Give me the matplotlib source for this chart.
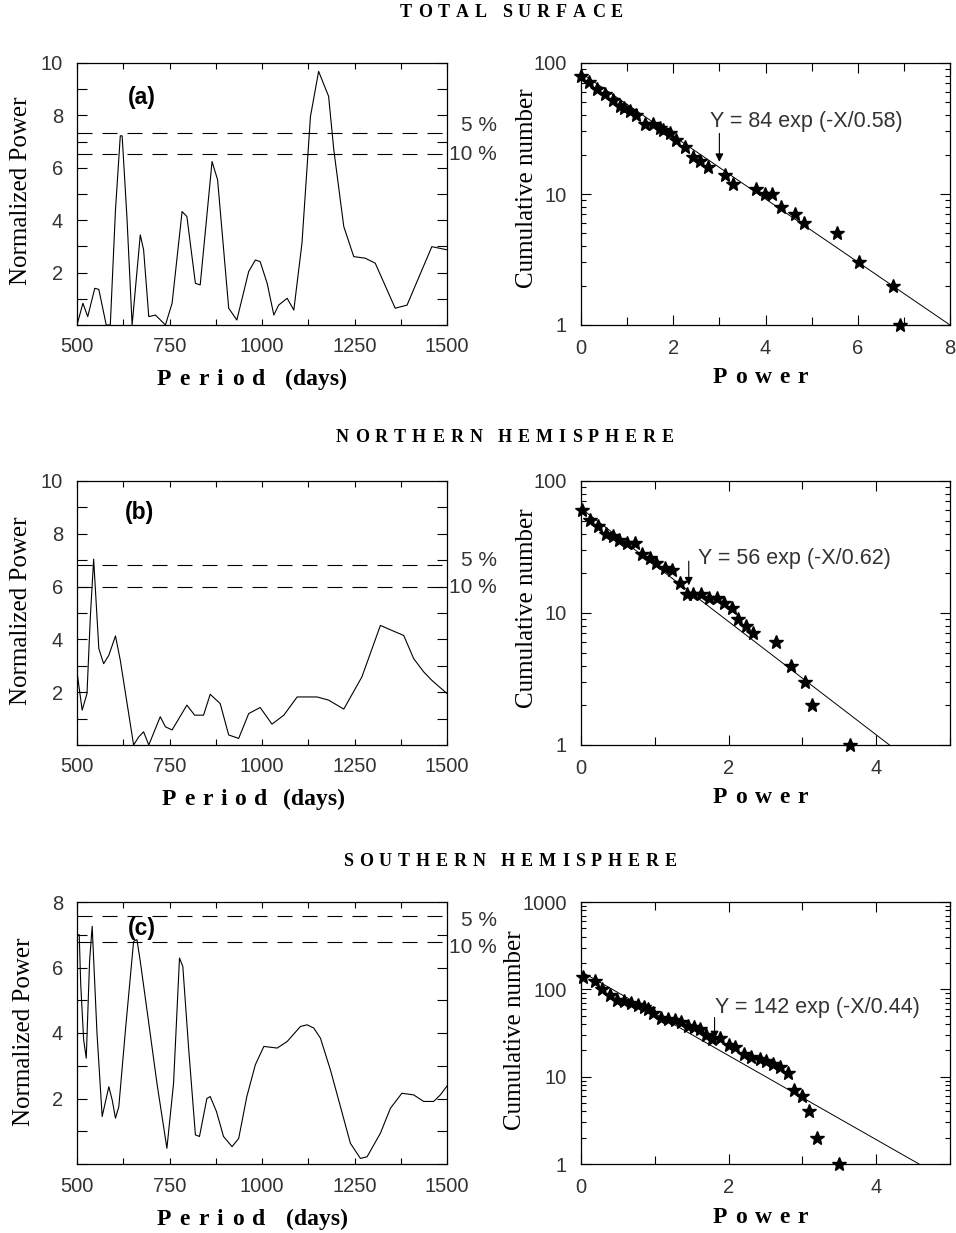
import matplotlib
matplotlib.use('Agg')
import matplotlib.pyplot as plt
from matplotlib.ticker import MultipleLocator, LogLocator, FuncFormatter, NullFormatter
from matplotlib.font_manager import FontProperties

# ---------------- data ----------------
# Left column: normalized periodogram power vs period (days)
a_period = [500, 516, 529, 548, 559, 579, 590, 604, 617, 622, 635, 649, 671, 680, 694, 712,
            739, 757, 784, 797, 820, 833, 865, 880, 910, 932, 964, 982, 995, 1014, 1032, 1045,
            1068, 1086, 1108, 1131, 1153, 1180, 1194, 1221, 1248, 1279, 1306, 1360, 1392, 1459, 1500]
a_power = [0, 0.83, 0.32, 1.40, 1.36, 0, 0, 4.40, 7.22, 7.22, 4.10, 0, 3.44, 2.87, 0.32, 0.38,
           0, 0.83, 4.33, 4.14, 1.59, 1.53, 6.24, 5.54, 0.64, 0.19, 2.04, 2.48, 2.42, 1.59, 0.38, 0.76,
           1.02, 0.57, 3.12, 7.96, 9.68, 8.73, 6.69, 3.76, 2.61, 2.55, 2.36, 0.64, 0.76, 2.99, 2.87]

b_period = [500, 514, 527, 536, 545, 559, 572, 586, 604, 617, 653, 667, 680, 694, 725, 739,
            757, 797, 818, 842, 860, 887, 910, 937, 964, 995, 1027, 1059, 1095, 1149, 1180, 1221,
            1270, 1320, 1351, 1383, 1410, 1437, 1459, 1500]
b_power = [2.77, 1.32, 1.95, 4.84, 7.04, 3.65, 3.08, 3.40, 4.13, 3.21, 0, 0.31, 0.50, 0, 1.07, 0.69,
           0.57, 1.51, 1.13, 1.13, 1.92, 1.57, 0.38, 0.25, 1.19, 1.42, 0.79, 1.13, 1.82, 1.82, 1.70, 1.36,
           2.58, 4.53, 4.34, 4.15, 3.27, 2.77, 2.45, 1.95]

c_period = [500, 501, 506, 510, 518, 525, 534, 541, 554, 568, 586, 595, 604, 613, 631, 653,
            662, 671, 694, 716, 743, 761, 777, 786, 802, 820, 831, 851, 860, 877, 896, 919,
            937, 959, 982, 1005, 1041, 1068, 1104, 1122, 1140, 1158, 1185, 1212, 1239, 1266, 1284,
            1320, 1347, 1378, 1410, 1437, 1464, 1482, 1500]
c_power = [4.90, 7.00, 7.00, 5.50, 3.79, 3.23, 6.19, 7.26, 4.00, 1.45, 2.36, 1.96, 1.40, 1.75, 4.10, 6.80,
           6.85, 6.19, 4.30, 2.47, 0.48, 2.47, 6.29, 6.03, 3.49, 0.89, 0.84, 2.00, 2.06, 1.60, 0.84, 0.53,
           0.78, 2.06, 3.03, 3.59, 3.54, 3.74, 4.20, 4.25, 4.15, 3.84, 2.87, 1.75, 0.63, 0.17, 0.22,
           0.94, 1.70, 2.16, 2.11, 1.91, 1.91, 2.11, 2.38]

# significance levels (5 %, 10 %)
a_sig = [7.34, 6.51]
b_sig = [6.80, 5.97]
c_sig = [7.58, 6.77]
sig_labels = ['5 %', '10 %']

# Right column: cumulative number vs power
ra_x = [0.00, 0.18, 0.35, 0.52, 0.70, 0.84, 0.93, 1.06, 1.19, 1.38, 1.56, 1.71, 1.78, 1.92, 2.06, 2.26,
        2.42, 2.59, 2.76, 3.13, 3.29, 3.79, 3.98, 4.15, 4.33, 4.65, 4.83, 5.54, 6.02, 6.76, 6.92]
ra_y = [80, 71, 63, 58, 52, 47, 45, 43, 40, 34, 34, 32, 31, 29, 26, 23,
        19, 18, 16, 14, 12, 11, 10, 10, 8, 7, 6, 5, 3, 2, 1]
rb_x = [0.01, 0.12, 0.23, 0.34, 0.43, 0.52, 0.63, 0.73, 0.83, 0.93, 1.02, 1.14, 1.23, 1.34, 1.43, 1.52,
        1.63, 1.74, 1.84, 1.94, 2.04, 2.13, 2.24, 2.33, 2.64, 2.84, 3.03, 3.13, 3.64]
rb_y = [60, 51, 46, 40, 38, 36, 34, 34, 28, 26, 24, 22, 21, 17, 14, 14,
        14, 13, 13, 12, 11, 9, 8, 7, 6, 4, 3, 2, 1]
rc_x = [0.03, 0.19, 0.29, 0.39, 0.49, 0.58, 0.68, 0.77, 0.86, 0.91, 0.98, 1.09, 1.18, 1.28, 1.36, 1.45,
        1.53, 1.61, 1.70, 1.78, 1.88, 2.01, 2.08, 2.21, 2.31, 2.42, 2.51, 2.60, 2.69, 2.80, 2.89, 3.00,
        3.09, 3.20, 3.50]
rc_y = [137, 126, 101, 85, 75, 74, 69, 66, 62, 59, 53, 47, 46, 44, 42, 38,
        37, 35, 30, 27, 28, 23, 22, 18, 17, 16, 15, 14, 13, 11, 7, 6,
        4, 2, 1]

# exponential fits (end points of straight line on log axis)
ra_fit_x, ra_fit_y = [0, 8.0], [84, 1]
rb_fit_x, rb_fit_y = [0, 4.18], [62, 1]
rc_fit_x, rc_fit_y = [0, 4.58], [160, 1]

fit_texts = ['Y = 84 exp (-X/0.58)', 'Y = 56 exp (-X/0.62)', 'Y = 142 exp (-X/0.44)']
# arrow (x, top, tip) and text anchor (x, y)
ra_arrow = [3.0, 29, 17.6]; ra_text = [2.8, 36]
rb_arrow = [1.46, 24.7, 16.2]; rb_text = [1.59, 26]
rc_arrow = [1.81, 47.6, 26.9]; rc_text = [1.82, 62]

titles = ['TOTAL SURFACE', 'NORTHERN HEMISPHERE', 'SOUTHERN HEMISPHERE']
panel_labels = ['(a)', '(b)', '(c)']

# ---------------- figure ----------------
W, H, DPI = 956, 1233, 100
plt.rcParams['font.family'] = ['Liberation Sans', 'DejaVu Sans']
plt.rcParams['lines.scale_dashes'] = False
TCOL = '#333333'
TICK_SIZE = 14.5

fig = plt.figure(figsize=(W / DPI, H / DPI), dpi=DPI)
renderer = fig.canvas.get_renderer()


def rect(l, t, r, b):
    return [l / W, 1 - b / H, (r - l) / W, (b - t) / H]


def spaced_text(s, x0, x1, ybase, fp, word_units=2.5):
    items = []
    prev_space = False
    for ch in s:
        if ch == ' ':
            prev_space = True
            continue
        items.append((ch, prev_space))
        prev_space = False
    texts = [fig.text(0, 0, ch, fontproperties=fp, ha='left', va='baseline') for ch, _ in items]
    ws = [t.get_window_extent(renderer).width for t in texts]
    units = sum((word_units if sp else 1.0) for _, sp in items[1:])
    track = (x1 - x0 - sum(ws)) / units
    x = x0
    for i, (t, w) in enumerate(zip(texts, ws)):
        if i > 0:
            x += track * (word_units if items[i][1] else 1.0)
        t.set_position((x / W, 1 - ybase / H))
        x += w


fp_title = FontProperties(family='Liberation Serif', weight='bold', size=13)
fp_xl = FontProperties(family='Liberation Serif', weight='bold', size=17)
fp_yl = FontProperties(family='Liberation Serif', size=18)

LEFT = (77, 447)
RIGHT = (581, 950)
ROWS = [(63, 325), (481, 745), (902, 1164)]

left_data = [(a_period, a_power, a_sig, 10), (b_period, b_power, b_sig, 10), (c_period, c_power, c_sig, 8)]
right_data = [(ra_x, ra_y, ra_fit_x, ra_fit_y, 8, 100, ra_arrow, ra_text),
              (rb_x, rb_y, rb_fit_x, rb_fit_y, 5, 100, rb_arrow, rb_text),
              (rc_x, rc_y, rc_fit_x, rc_fit_y, 5, 1000, rc_arrow, rc_text)]

label_pos = [(0.138, 0.87), (0.13, 0.879), (0.138, 0.90)]
sig_dy = [(-7, 0), (-5, 0), (5, 5)]   # pixel offsets (down positive) of 5 % / 10 % labels
title_span = [(400, 623, 17), (336, 674, 442), (343, 677, 866)]
period_span = [(157, 265, 285, 385), (162, 267, 283, 805), (157, 265, 286, 1225)]
power_base = [383, 803, 1223]
ylab_left = [(21, 191), (21, 611), (24, 1032)]
ylab_right = [(527, 188), (527, 608), (515, 1030)]


def style_spines(ax):
    for sp in ax.spines.values():
        sp.set_linewidth(0.9)


for i, (top, bot) in enumerate(ROWS):
    # ---------- left periodogram ----------
    per, pw, sig, ymax = left_data[i]
    ax = fig.add_axes(rect(LEFT[0], top, LEFT[1], bot))
    ax.plot(per, pw, color='black', lw=0.8)
    for s in sig:
        ax.axhline(s, color='black', lw=0.8, dashes=(10.8, 7.2))
    ax.set_xlim(500, 1500)
    ax.set_ylim(0, ymax)
    ax.xaxis.set_major_locator(MultipleLocator(250))
    ax.xaxis.set_minor_locator(MultipleLocator(125))
    ax.yaxis.set_major_locator(MultipleLocator(2))
    ax.yaxis.set_minor_locator(MultipleLocator(1))
    ax.yaxis.set_major_formatter(FuncFormatter(lambda v, p: '' if v == 0 else f'{v:g}'))
    ax.tick_params(which='both', direction='in', top=True, right=True, labelsize=TICK_SIZE,
                   labelcolor=TCOL, color='black', width=0.8)
    ax.tick_params(axis='y', which='both', length=7, pad=10)
    ax.tick_params(axis='x', which='both', length=4, pad=9)
    style_spines(ax)
    ax.text(label_pos[i][0], label_pos[i][1], panel_labels[i], transform=ax.transAxes,
            fontsize=16.5, fontweight='bold', ha='left', va='center', color='black')
    for k, s in enumerate(sig):
        ax.annotate(sig_labels[k], xy=(1, s), xycoords=ax.get_yaxis_transform(),
                    xytext=(50 * 72 / DPI, -sig_dy[i][k] * 72 / DPI), textcoords='offset points',
                    ha='right', va='center', fontsize=15, color=TCOL)
    x0, x1, xd, yb = period_span[i]
    spaced_text('Period', x0, x1, yb, fp_xl)
    fig.text(xd / W, 1 - yb / H, '(days)', fontproperties=fp_xl, ha='left', va='baseline')
    fig.text(ylab_left[i][0] / W, 1 - ylab_left[i][1] / H, 'Normalized Power', fontproperties=fp_yl,
             rotation=90, ha='center', va='center')

    # ---------- right cumulative distribution ----------
    rx, ry, fx, fy, xmax, ymx, arr, txt = right_data[i]
    ax2 = fig.add_axes(rect(RIGHT[0], top, RIGHT[1], bot))
    ax2.set_yscale('log')
    ax2.plot(fx, fy, color='black', lw=0.7)
    ax2.plot(rx, ry, ls='none', marker='*', ms=10, color='black', clip_on=False)
    ax2.annotate('', xy=(arr[0], arr[2]), xytext=(arr[0], arr[1]),
                 arrowprops=dict(arrowstyle='-|>', color='black', lw=0.8, mutation_scale=12,
                                 shrinkA=0, shrinkB=0))
    ax2.text(txt[0], txt[1], fit_texts[i], ha='left', va='center', fontsize=15.5, color=TCOL)
    ax2.set_xlim(0, xmax)
    ax2.set_ylim(1, ymx)
    ax2.xaxis.set_major_locator(MultipleLocator(2))
    ax2.xaxis.set_minor_locator(MultipleLocator(1))
    ax2.yaxis.set_major_locator(LogLocator(base=10))
    ax2.yaxis.set_minor_locator(LogLocator(base=10, subs=range(2, 10)))
    ax2.yaxis.set_major_formatter(FuncFormatter(lambda v, p: f'{v:g}'))
    ax2.yaxis.set_minor_formatter(NullFormatter())
    ax2.tick_params(which='both', direction='in', top=True, right=True, labelsize=TICK_SIZE,
                    labelcolor=TCOL, color='black', width=0.8, pad=10)
    ax2.tick_params(which='major', length=7)
    ax2.tick_params(which='minor', length=3.5)
    ax2.tick_params(axis='x', which='minor', length=6)
    style_spines(ax2)
    spaced_text('Power', 713, 808, power_base[i], fp_xl)
    fig.text(ylab_right[i][0] / W, 1 - ylab_right[i][1] / H, 'Cumulative number', fontproperties=fp_yl,
             rotation=90, ha='center', va='center')

    # ---------- row title ----------
    tx0, tx1, tyb = title_span[i]
    spaced_text(titles[i], tx0, tx1, tyb, fp_title, word_units=2.5)

fig.savefig('out.png', dpi=DPI)
